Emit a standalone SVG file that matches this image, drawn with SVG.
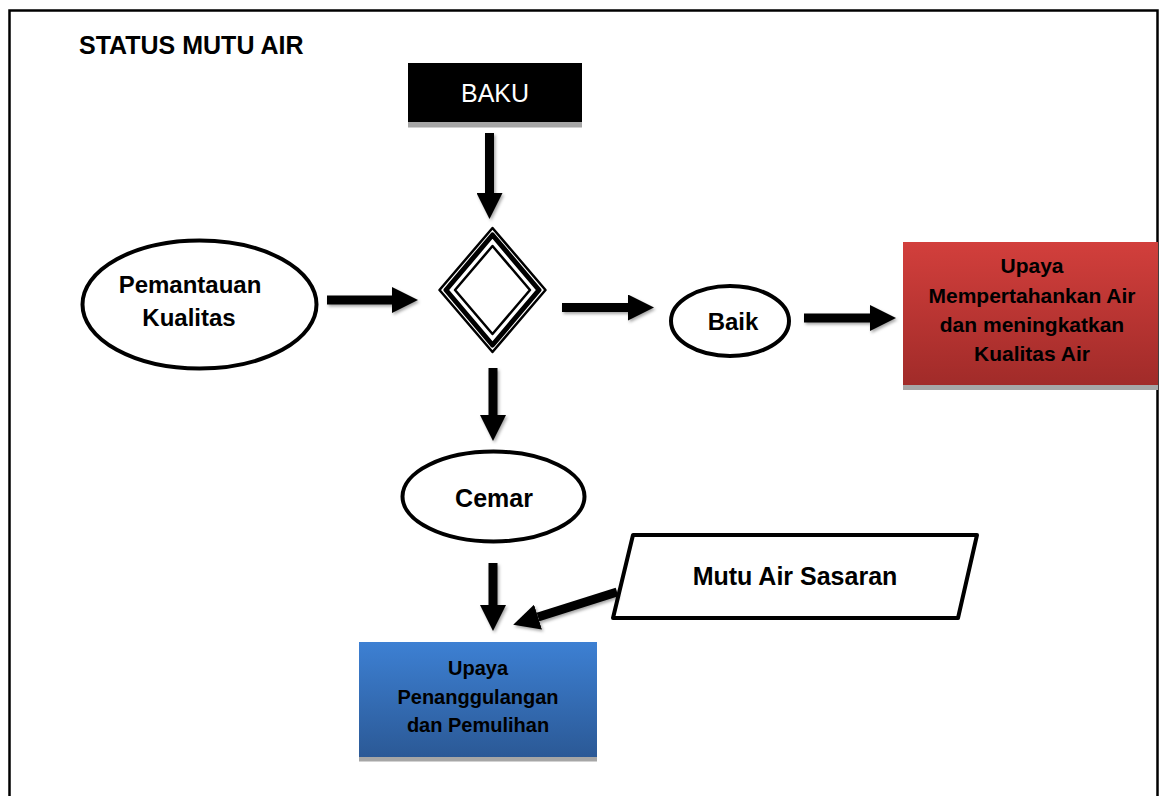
<svg xmlns="http://www.w3.org/2000/svg" width="1160" height="796" viewBox="0 0 1160 796">
<style>
.t{font-family:"Liberation Sans",Arial,sans-serif;font-weight:bold;fill:#000;text-anchor:middle}
.shape{fill:#fff;stroke:#000;stroke-width:4}
.conn{stroke:#000;stroke-width:9;fill:none;marker-end:url(#ah);filter:url(#sh)}
</style>
<defs>
<marker id="ah" viewBox="0 0 26 26" refX="0" refY="13" markerWidth="26" markerHeight="26" markerUnits="userSpaceOnUse" orient="auto">
<path d="M0,0 L26,13 L0,26 z" fill="#000"/>
</marker>
<filter id="sh" filterUnits="userSpaceOnUse" x="0" y="0" width="1160" height="796">
<feDropShadow dx="1.5" dy="2" stdDeviation="1.5" flood-color="#000" flood-opacity="0.35"/>
</filter>
<linearGradient id="gr" x1="0" y1="0" x2="0" y2="1">
<stop offset="0" stop-color="#d23f3c"/>
<stop offset="1" stop-color="#a12b29"/>
</linearGradient>
<linearGradient id="gb" x1="0" y1="0" x2="0" y2="1">
<stop offset="0" stop-color="#3d80d3"/>
<stop offset="1" stop-color="#2b5996"/>
</linearGradient>
</defs>
<rect x="0" y="0" width="1160" height="796" fill="#fff"/>
<rect x="9.5" y="10.5" width="1148" height="800" fill="none" stroke="#000" stroke-width="2.5"/>
<text class="t" x="79" y="54" font-size="25" style="text-anchor:start">STATUS MUTU AIR</text>

<g id="baku">
<rect x="408" y="122" width="174" height="5.5" fill="#a6a6a6"/>
<rect x="408" y="63" width="174" height="59" fill="#000"/>
<text x="495" y="102" font-family="Liberation Sans, Arial, sans-serif" font-size="25" fill="#fff" text-anchor="middle">BAKU</text>
</g>

<g id="pemantauan">
<ellipse class="shape" cx="199.5" cy="304.5" rx="117" ry="64"/>
<text class="t" font-size="24"><tspan x="190" y="293">Pemantauan</tspan><tspan x="189" y="326">Kualitas</tspan></text>
</g>

<g id="decision">
<path d="M492.5,228 L545.5,290 L492.5,352 L439.5,290 Z" fill="#fff" stroke="#000" stroke-width="2.5" stroke-linejoin="round"/>
<path d="M492.5,235 L539,290 L492.5,345 L446,290 Z" fill="none" stroke="#000" stroke-width="5" stroke-linejoin="round"/>
<path d="M492.5,246 L530,290 L492.5,334 L455,290 Z" fill="none" stroke="#000" stroke-width="2.5" stroke-linejoin="round"/>
</g>

<g id="baik">
<ellipse class="shape" cx="730" cy="321" rx="59" ry="35"/>
<text class="t" x="733" y="330" font-size="24">Baik</text>
</g>

<g id="upaya-pertahankan">
<rect x="903" y="385" width="255" height="5" fill="#a6a6a6"/>
<rect x="903" y="242" width="255" height="143" fill="url(#gr)"/>
<text class="t" font-size="21"><tspan x="1032" y="273">Upaya</tspan><tspan x="1032" y="303">Mempertahankan Air</tspan><tspan x="1032" y="332">dan meningkatkan</tspan><tspan x="1032" y="361">Kualitas Air</tspan></text>
</g>

<g id="cemar">
<ellipse class="shape" cx="493.5" cy="496.5" rx="91" ry="45"/>
<text class="t" x="494" y="507" font-size="25">Cemar</text>
</g>

<g id="mutu-air-sasaran">
<path class="shape" d="M633,535 L977,535 L958,618 L613,618 Z" stroke-linejoin="round"/>
<text class="t" x="795" y="585" font-size="25">Mutu Air Sasaran</text>
</g>

<g id="upaya-penanggulangan">
<rect x="359" y="757" width="238" height="4.5" fill="#a6a6a6"/>
<rect x="359" y="642" width="238" height="115" fill="url(#gb)"/>
<text class="t" font-size="20"><tspan x="478" y="675">Upaya</tspan><tspan x="478" y="704">Penanggulangan</tspan><tspan x="478" y="732">dan Pemulihan</tspan></text>
</g>

<g id="connectors">
<line class="conn" x1="489.5" y1="133" x2="489.5" y2="193"/>
<line class="conn" x1="327" y1="300" x2="392" y2="300"/>
<line class="conn" x1="562" y1="307.5" x2="628" y2="307.5"/>
<line class="conn" x1="804" y1="318" x2="870" y2="318"/>
<line class="conn" x1="493" y1="368" x2="493" y2="415"/>
<line class="conn" x1="493" y1="563" x2="493" y2="605"/>
<line class="conn" x1="617" y1="592" x2="538" y2="617"/>
</g>
</svg>
